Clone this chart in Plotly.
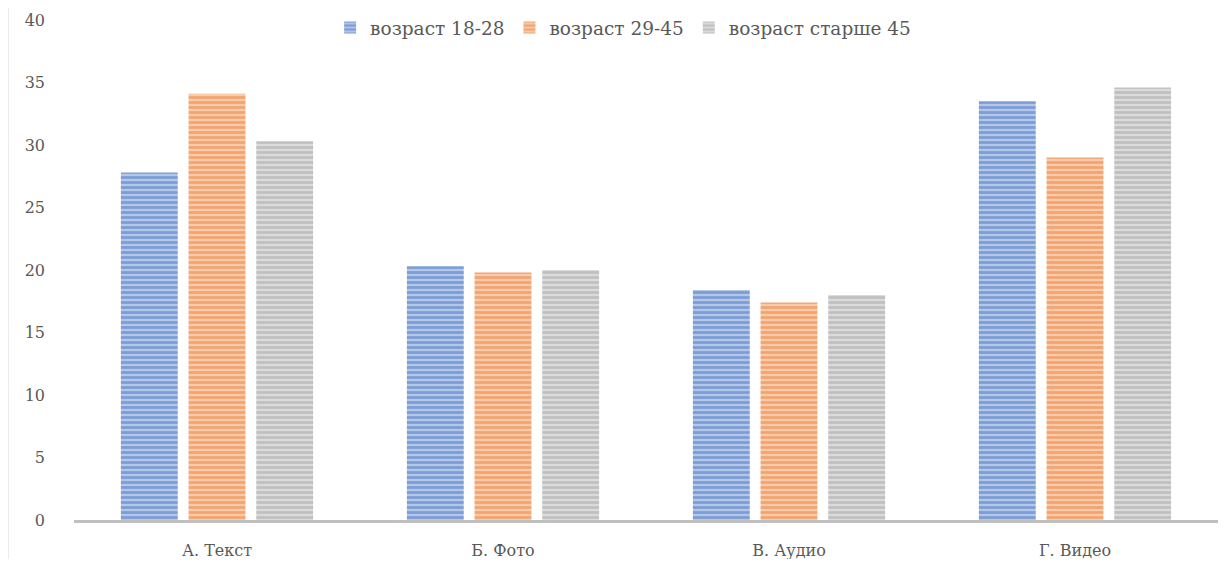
import plotly.graph_objects as go

categories = ["А. Текст", "Б. Фото", "В. Аудио", "Г. Видео"]
series_names = ["возраст 18-28", "возраст 29-45", "возраст старше 45"]
age_18_28 = [27.8, 20.3, 18.4, 33.5]
age_29_45 = [34.1, 19.8, 17.4, 29.0]
age_45_plus = [30.3, 20.0, 18.0, 34.6]

# (stripe colour, background colour) per series
colors = [("#4472C4", "#B4C7E7"), ("#ED7D31", "#F8CBAD"), ("#A5A5A5", "#DBDBDB")]

fig = go.Figure()
for name, values, (fg, bg) in zip(series_names, [age_18_28, age_29_45, age_45_plus], colors):
    fig.add_trace(
        go.Bar(
            x=categories,
            y=values,
            name=name,
            marker={
                "color": bg,
                "line": {"width": 0},
                "pattern": {"shape": "-", "fgcolor": fg, "bgcolor": bg, "size": 5, "solidity": 0.55},
            },
        )
    )

# page body adds 8px margin, so the figure is sized to fit inside the window
fig.update_layout(
    width=1216,
    height=551,
    barmode="group",
    bargap=0.29,
    bargroupgap=0.16,
    plot_bgcolor="white",
    paper_bgcolor="white",
    font={"family": "DejaVu Serif", "size": 16, "color": "#595959"},
    margin={"l": 66, "r": 6, "t": 12, "b": 39, "autoexpand": False},
    legend={
        "orientation": "h",
        "x": 0.48,
        "xanchor": "center",
        "y": 0.984,
        "yanchor": "middle",
        "font": {"family": "DejaVu Serif", "size": 18.5, "color": "#595959"},
        "bgcolor": "rgba(0,0,0,0)",
        "itemwidth": 30,
    },
    shapes=[
        {
            "type": "line",
            "xref": "paper",
            "yref": "paper",
            "x0": -0.058,
            "x1": -0.058,
            "y0": -0.1,
            "y1": 1.05,
            "line": {"color": "#D0D0D0", "width": 1.5},
        }
    ],
)
fig.update_yaxes(
    range=[0, 40],
    dtick=5,
    showgrid=False,
    zeroline=False,
    showline=False,
    ticks="",
    ticklabelstandoff=28,
    automargin=False,
)
fig.update_xaxes(
    showline=True,
    linecolor="#BFBFBF",
    linewidth=3,
    ticks="",
    showgrid=False,
    ticklabelstandoff=14,
    automargin=False,
)

fig.write_html("out.html")
